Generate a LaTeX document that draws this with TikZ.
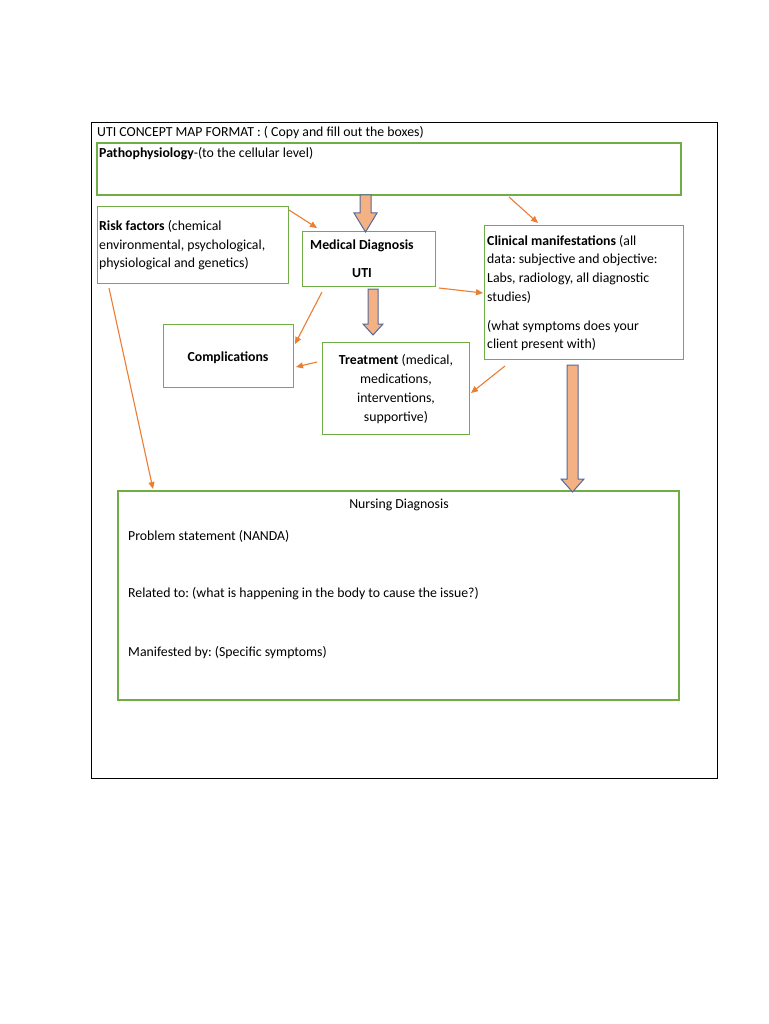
\documentclass[tikz,border=0pt]{standalone}
\usepackage{fontspec}
\setmainfont{Carlito}
\usetikzlibrary{arrows.meta}
\definecolor{boxgreen}{HTML}{70AD47}
\definecolor{arrorange}{HTML}{ED7D31}
\definecolor{blockfill}{HTML}{F4B183}
\definecolor{blockline}{HTML}{56699A}
\tikzset{
  thinbox/.style={draw=boxgreen, line width=0.9pt},
  thickbox/.style={draw=boxgreen, line width=1.8pt},
  txt/.style={inner sep=0pt, anchor=base west, font=\fontsize{13.8}{18}\selectfont},
  ctxt/.style={inner sep=0pt, anchor=base, font=\fontsize{13.8}{18}\selectfont},
  link/.style={draw=arrorange, line width=1.1pt, -{Triangle[length=7pt,width=6pt]}},
  blockarrow/.style={draw=blockline, fill=blockfill, line width=1pt, line join=miter},
}
\frenchspacing
\begin{document}
\begin{tikzpicture}[x=1pt,y=-1pt]
\useasboundingbox (0,0) rectangle (768,1024);
\fill[white] (0,0) rectangle (768,1024);
% outer frame
\draw[black, line width=0.8pt] (91,122) rectangle (717,778);
\node[txt] (title) at (97,137) {UTI CONCEPT MAP FORMAT : ( Copy and fill out the boxes)};

% boxes
\draw[thickbox] (97,143) rectangle (681,195);
\draw[thinbox] (97,206) rectangle (288,283);
\draw[thinbox] (302,231) rectangle (435,286);
\draw[thinbox] (484,225) rectangle (683,359);
\draw[thinbox] (163,324) rectangle (293,387);
\draw[thinbox] (322,342) rectangle (469,434);
\draw[thickbox] (118,491) rectangle (679,700);

% texts
\node[txt] (pathoT) at (99,158) {\textbf{Pathophysiology}-(to the cellular level)};
\node[txt] (riskT1) at (99,231) {\textbf{Risk factors} (chemical};
\node[txt] (riskT2) at (99,249) {environmental, psychological,};
\node[txt] (riskT3) at (99,267) {physiological and genetics)};
\node[txt] (mdT1) at (310,249) {\textbf{Medical Diagnosis}};
\node[ctxt] (mdT2) at (362,277) {\textbf{UTI}};
\node[txt] (cmT1) at (487,245) {\textbf{Clinical manifestations} (all};
\node[txt] (cmT2) at (487,263) {data: subjective and objective:};
\node[txt] (cmT3) at (487,282) {Labs, radiology, all diagnostic};
\node[txt] (cmT4) at (487,301) {studies)};
\node[txt] (cmT5) at (487,330) {(what symptoms does your};
\node[txt] (cmT6) at (487,348) {client present with)};
\node[ctxt] (compT) at (228,361) {\textbf{Complications}};
\node[ctxt] (trT1) at (396,364) {\textbf{Treatment} (medical,};
\node[ctxt] (trT2) at (396,383) {medications,};
\node[ctxt] (trT3) at (396,402) {interventions,};
\node[ctxt] (trT4) at (396,421) {supportive)};
\node[ctxt] (ndT) at (399,508) {Nursing Diagnosis};
\node[txt] (ndT1) at (128,540) {Problem statement (NANDA)};
\node[txt] (ndT2) at (128,597) {Related to: (what is happening in the body to cause the issue?)};
\node[txt] (ndT3) at (128,656) {Manifested by: (Specific symptoms)};

% block arrows
\draw[blockarrow] (360,195) -- (371,195) -- (371,213) -- (377,213) -- (365.5,232) -- (354,213) -- (360,213) -- cycle;
\draw[blockarrow] (368,289) -- (378,289) -- (378,324) -- (383,324) -- (373,335) -- (363,324) -- (368,324) -- cycle;
\draw[blockarrow] (567,365) -- (578,365) -- (578,479) -- (584,479) -- (572.5,492) -- (561,479) -- (567,479) -- cycle;

% thin connectors
\coordinate (a1s) at (289,210); \coordinate (a1e) at (317,228);
\coordinate (a2s) at (509,197); \coordinate (a2e) at (538,223);
\coordinate (a3s) at (439,288); \coordinate (a3e) at (483,293);
\coordinate (a4s) at (322,292); \coordinate (a4e) at (295,344);
\coordinate (a5s) at (317,362); \coordinate (a5e) at (296,367);
\coordinate (a6s) at (505,366); \coordinate (a6e) at (471,393);
\coordinate (a7s) at (109,288); \coordinate (a7e) at (153,489);
\draw[link] (a1s) -- (a1e);
\draw[link] (a2s) -- (a2e);
\draw[link] (a3s) -- (a3e);
\draw[link] (a4s) -- (a4e);
\draw[link] (a5s) -- (a5e);
\draw[link] (a6s) -- (a6e);
\draw[link] (a7s) -- (a7e);
\end{tikzpicture}
\end{document}
